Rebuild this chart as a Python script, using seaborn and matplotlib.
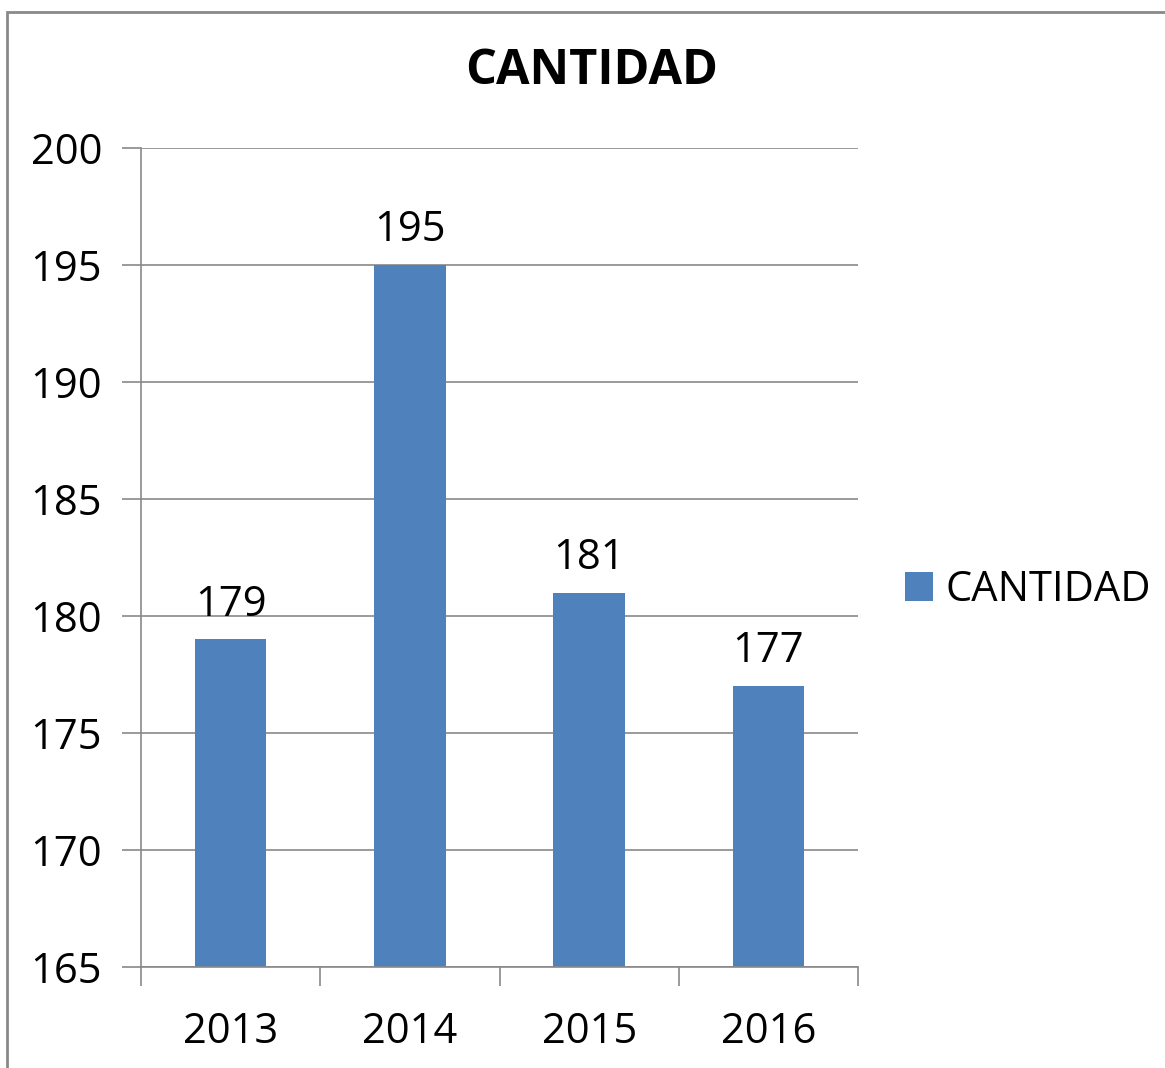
import matplotlib
matplotlib.use('Agg')
import matplotlib.pyplot as plt
import seaborn as sns
from matplotlib.patches import Patch, Rectangle

# Chart data
years = ['2013', '2014', '2015', '2016']
cantidad = [179, 195, 181, 177]
yticks = [165, 170, 175, 180, 185, 190, 195, 200]

bar_color = '#4F81BD'
line_gray = '#898989'

sns.set_style('white')
plt.rcParams['font.family'] = ['Open Sans', 'DejaVu Sans']
plt.rcParams['text.color'] = 'black'
plt.rcParams['xtick.color'] = 'black'
plt.rcParams['ytick.color'] = 'black'

fig = plt.figure(figsize=(11.65, 10.68), dpi=100)
ax = fig.add_axes([141 / 1165, 1 - 967 / 1068, (858 - 141) / 1165, (967 - 148) / 1068])

sns.barplot(x=years, y=cantidad, color=bar_color, width=0.4, saturation=1,
            linewidth=0, edgecolor='none', ax=ax)

ax.set_ylim(165, 200)
ax.set_xlim(-0.5, 3.5)
ax.set_yticks(yticks)
ax.set_xlabel('')
ax.set_ylabel('')

# horizontal gridlines
ax.yaxis.grid(True, color=line_gray, linewidth=1.2)
ax.set_axisbelow(True)

# spines
for side in ['top', 'right']:
    ax.spines[side].set_visible(False)
for side in ['left', 'bottom']:
    ax.spines[side].set_color(line_gray)
    ax.spines[side].set_linewidth(1.2)

# tick marks: y ticks outward, x ticks at category boundaries
ax.tick_params(axis='y', left=True, direction='out', length=14, width=1.2,
               color=line_gray, labelcolor='black', labelsize=30, pad=14)
ax.tick_params(axis='x', which='major', bottom=True, length=0, labelsize=30,
               labelcolor='black', pad=32)
ax.set_xticks([-0.5, 0.5, 1.5, 2.5, 3.5], minor=True)
ax.tick_params(axis='x', which='minor', bottom=True, direction='out', length=14,
               width=1.2, color=line_gray)

# value labels above bars
ax.bar_label(ax.containers[0], fontsize=30, padding=10, color='black')

# title
fig.text(592 / 1165, 1 - 72 / 1068, 'CANTIDAD', fontsize=35, fontweight='bold',
         ha='center', va='center', color='black')

# legend
handle = Patch(facecolor=bar_color, edgecolor='none', label='CANTIDAD')
leg = fig.legend(handles=[handle], loc='center left',
                 bbox_to_anchor=(905 / 1165, 1 - 590 / 1068),
                 frameon=False, fontsize=30, handlelength=0.68, handleheight=0.68,
                 handletextpad=0.3, borderpad=0, borderaxespad=0)
for t in leg.get_texts():
    t.set_color('black')

# outer chart border (left and top edges visible)
fig.patches.append(Rectangle((7 / 1165, -0.1), 1.2, 1 - 12 / 1068 + 0.1,
                             transform=fig.transFigure, fill=False,
                             edgecolor=line_gray, linewidth=2))

fig.savefig('out.png', dpi=100)
